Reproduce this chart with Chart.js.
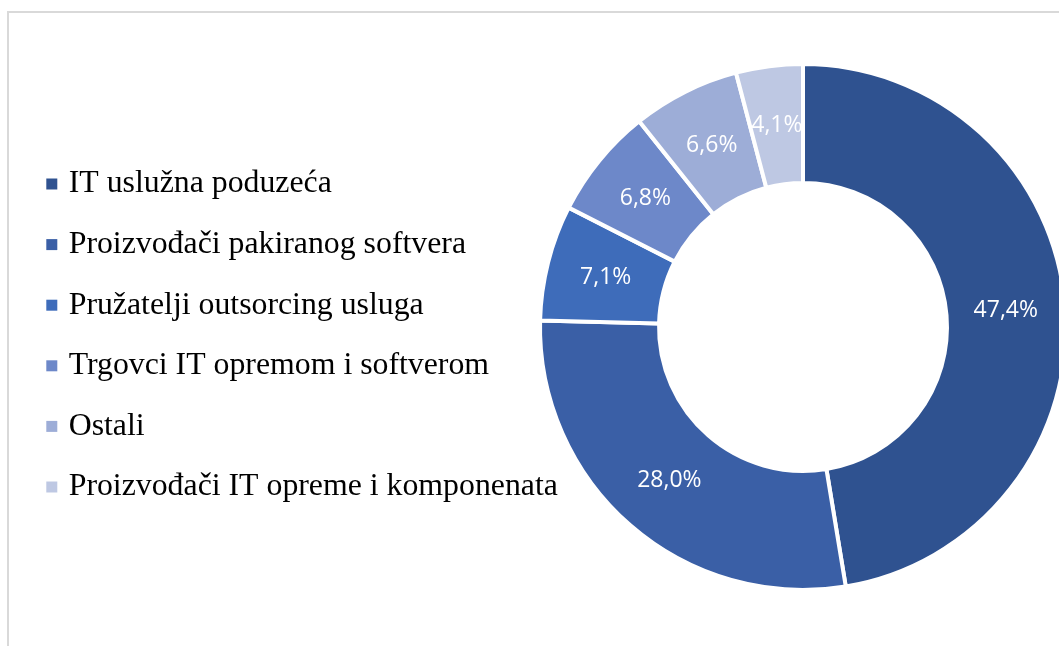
<!DOCTYPE html>
<html>
<head>
<meta charset="utf-8">
<script src="https://cdn.jsdelivr.net/npm/chart.js@4.4.1/dist/chart.umd.min.js"></script>
<style>
  html, body { margin: 0; padding: 0; background: #ffffff; overflow: hidden; }
  #wrap { position: relative; width: 1059px; height: 646px; overflow: hidden; }
  #frame { position: absolute; left: 7px; top: 11px; width: 1100px; height: 700px;
           border-left: 2px solid #d9d9d9; border-top: 2px solid #d9d9d9; box-sizing: border-box; }
  canvas { position: absolute; left: 0; top: 0; }
</style>
</head>
<body>
<div id="wrap">
  <div id="frame"></div>
  <canvas id="c" width="1080" height="646"></canvas>
</div>
<script>
const categories = [
  'IT uslužna poduzeća',
  'Proizvođači pakiranog softvera',
  'Pružatelji outsorcing usluga',
  'Trgovci IT opremom i softverom',
  'Ostali',
  'Proizvođači IT opreme i komponenata'
];
const shares = [47.4, 28.0, 7.1, 6.8, 6.6, 4.1];
const sliceColors = ['#2F5290', '#3A5FA6', '#3E6CBA', '#6D88C9', '#9DADD7', '#BEC8E3'];

const sliceLabels = {
  id: 'sliceLabels',
  afterDatasetsDraw(chart) {
    const ctx = chart.ctx;
    const meta = chart.getDatasetMeta(0);
    const values = chart.data.datasets[0].data;
    ctx.save();
    ctx.fillStyle = '#ffffff';
    ctx.font = '23px "Open Sans", sans-serif';
    ctx.textAlign = 'center';
    ctx.textBaseline = 'middle';
    meta.data.forEach((arc, i) => {
      const p = arc.tooltipPosition();
      ctx.fillText(values[i].toFixed(1).replace('.', ',') + '%', p.x, p.y);
    });
    ctx.restore();
  }
};

// let the legend text run past its layout box (as in the reference) without being clipped
const legendOverflow = {
  id: 'legendOverflow',
  afterLayout(chart) {
    const lg = chart.legend;
    if (lg) { lg.right = lg.left + 620; }
  }
};

new Chart(document.getElementById('c'), {
  type: 'doughnut',
  data: {
    labels: categories,
    datasets: [{
      data: shares,
      backgroundColor: sliceColors,
      borderColor: '#ffffff',
      borderWidth: 4,
      hoverOffset: 0
    }]
  },
  options: {
    responsive: false,
    devicePixelRatio: 1,
    animation: false,
    cutout: '54.75%',
    layout: { padding: { left: 22, right: 12, top: 62, bottom: 54 } },
    plugins: {
      tooltip: { enabled: false },
      legend: {
        position: 'left',
        align: 'center',
        maxWidth: 516,
        title: { display: true, text: '', padding: { top: 0, bottom: 7 }, font: { size: 10, lineHeight: 1 } },
        labels: {
          boxWidth: 2,
          boxHeight: 2,
          padding: 28.8,
          color: '#000000',
          font: { family: '"Liberation Serif", "Times New Roman", serif', size: 31.8 },
          generateLabels: (chart) => chart.data.labels.map((t, i) => ({
            text: t,
            fillStyle: sliceColors[i],
            strokeStyle: sliceColors[i],
            fontColor: '#000000',
            lineWidth: 9,
            hidden: false,
            index: i
          }))
        }
      }
    }
  },
  plugins: [sliceLabels, legendOverflow]
});
</script>
</body>
</html>
